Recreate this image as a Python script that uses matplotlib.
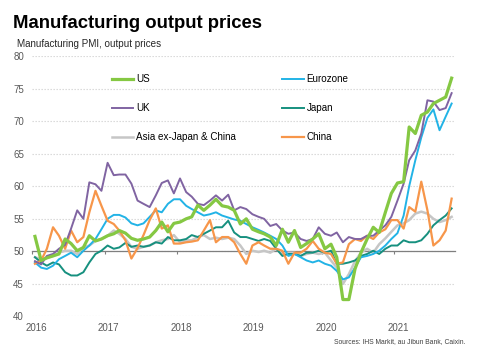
import numpy as np
import pandas as pd
import matplotlib
matplotlib.use("Agg")
import matplotlib.pyplot as plt
import matplotlib.dates as mdates
import matplotlib.transforms as mtransforms

plt.rcParams['font.family'] = ['Liberation Sans', 'DejaVu Sans']

# monthly readings, Jan 2016 - Oct 2021
months = pd.date_range("2016-01-01", "2021-10-01", freq="MS")

us = [52.3, 48.6, 49.0, 49.3, 49.6, 51.9, 51.2, 50.1, 50.6, 52.4, 51.6, 51.9,
      52.4, 52.7, 53.2, 52.8, 52.0, 51.7, 51.9, 52.2, 53.2, 54.5, 53.0, 54.3,
      54.5, 55.0, 55.3, 57.1, 56.3, 57.1, 58.0, 57.0, 56.8, 56.3, 54.2, 55.0,
      53.4, 53.0, 52.7, 52.2, 50.9, 53.4, 51.4, 53.2, 50.6, 51.2, 51.9, 52.7,
      50.4, 51.1, 49.1, 42.6, 42.6, 47.3, 49.8, 51.9, 53.7, 52.9, 56.0, 58.9,
      60.5, 60.7, 69.1, 68.1, 70.9, 71.4, 72.7, 73.2, 73.7, 76.6]
eurozone = [48.3, 47.5, 47.3, 47.8, 48.8, 49.3, 49.8, 49.1, 50.1, 50.9, 51.9, 53.4,
            55.0, 55.6, 55.6, 55.2, 54.3, 54.0, 54.3, 55.3, 56.3, 56.0, 57.3, 58.0,
            58.0, 57.0, 56.5, 56.0, 55.5, 55.7, 56.0, 55.5, 55.2, 54.9, 54.7, 54.2,
            53.7, 53.3, 52.9, 52.4, 51.9, 50.9, 49.3, 49.6, 49.1, 48.6, 48.3, 48.6,
            48.1, 47.8, 47.0, 45.7, 46.0, 47.5, 49.1, 49.3, 49.6, 50.1, 50.9, 51.9,
            52.8, 55.5, 60.0, 64.0, 67.5, 70.5, 71.8, 68.6, 70.7, 72.7]
uk = [48.5, 48.0, 49.3, 49.6, 50.4, 51.0, 53.5, 56.3, 55.0, 60.6, 60.3, 59.3,
      63.6, 61.7, 61.8, 61.8, 60.4, 57.8, 57.3, 56.8, 58.6, 60.5, 60.9, 58.9,
      61.2, 59.1, 58.4, 57.3, 57.1, 57.8, 58.6, 57.8, 58.7, 56.3, 56.8, 56.5,
      55.7, 55.3, 55.0, 53.9, 54.2, 53.2, 52.7, 52.9, 51.9, 51.6, 51.9, 53.7,
      52.7, 52.4, 52.9, 51.4, 52.2, 51.9, 51.9, 52.4, 52.4, 53.2, 54.0, 55.3,
      57.8, 60.4, 64.0, 65.5, 68.1, 73.2, 73.0, 71.7, 72.0, 74.3]
japan = [49.1, 48.3, 47.8, 48.3, 48.0, 46.8, 46.3, 46.3, 46.8, 48.3, 49.6, 50.1,
         50.9, 50.4, 50.6, 51.3, 50.7, 50.9, 50.7, 50.9, 51.4, 51.2, 52.2, 51.7,
         51.7, 51.9, 52.5, 52.2, 52.7, 53.2, 53.7, 53.7, 54.7, 52.9, 52.2, 52.2,
         51.9, 51.6, 51.9, 51.6, 50.4, 49.3, 49.6, 49.6, 49.3, 49.8, 49.8, 50.1,
         49.8, 50.1, 48.1, 48.1, 48.3, 48.6, 49.3, 49.6, 50.1, 49.6, 50.4, 50.9,
         50.9, 51.7, 51.4, 51.4, 51.7, 52.7, 54.0, 54.8, 55.5, 56.6]
asia_ex = [49.1, 48.8, 49.0, 49.3, 49.8, 50.1, 50.1, 49.6, 50.6, 50.9, 51.6, 51.9,
           52.4, 53.2, 52.7, 51.9, 50.7, 50.4, 50.7, 50.9, 51.4, 51.7, 51.9, 52.5,
           51.4, 51.7, 51.7, 52.2, 52.5, 51.9, 52.1, 51.9, 52.1, 51.9, 50.9, 49.6,
           50.1, 49.9, 50.1, 49.8, 50.4, 49.6, 49.8, 49.8, 49.3, 49.6, 49.8, 49.6,
           49.8, 48.6, 47.5, 45.0, 46.5, 48.5, 49.8, 50.4, 49.8, 51.1, 52.0, 53.0,
           54.0, 54.3, 54.8, 55.8, 56.1, 55.8, 55.0, 54.5, 54.8, 55.3]
china = [48.1, 48.6, 50.4, 53.7, 52.4, 50.4, 53.2, 51.4, 52.2, 56.0, 59.3, 57.0,
         54.7, 54.2, 53.2, 51.7, 48.9, 50.5, 52.5, 54.8, 56.6, 53.5, 54.0, 51.2,
         51.2, 51.4, 51.5, 51.7, 53.2, 54.8, 51.4, 52.2, 52.2, 51.4, 49.6, 48.1,
         50.9, 51.4, 50.9, 50.4, 50.4, 50.1, 48.1, 49.8, 49.8, 50.4, 51.6, 50.4,
         49.8, 49.6, 48.1, 48.3, 51.1, 51.9, 51.6, 52.4, 51.9, 52.9, 53.4, 54.8,
         54.8, 53.5, 56.8, 56.1, 60.7, 56.3, 50.9, 51.7, 53.2, 58.1]

# Excel puts monthly points in the middle of each month
x = months + pd.Timedelta(days=15)

fig = plt.figure(figsize=(4.84, 3.59), dpi=100)
ax = fig.add_axes([0.0661, 0.1184, 0.8736, 0.7256])

l_asia, = ax.plot(x, asia_ex, color='#c6c6c6', lw=1.8, label='Asia ex-Japan & China')
l_jp, = ax.plot(x, japan, color='#16907f', lw=1.4, label='Japan')
l_ez, = ax.plot(x, eurozone, color='#22b3e6', lw=1.4, label='Eurozone')
l_cn, = ax.plot(x, china, color='#f7964a', lw=1.6, label='China')
l_uk, = ax.plot(x, uk, color='#8064a2', lw=1.4, label='UK')
l_us, = ax.plot(x, us, color='#85c843', lw=2.3, label='US')

ax.set_ylim(40, 80)
ax.set_yticks(np.arange(40, 81, 5))
ax.set_xlim(pd.Timestamp('2016-01-01'), pd.Timestamp('2021-11-01'))
ax.yaxis.grid(True, linestyle=(0, (1.2, 1.5)), color='#d4d4d4', lw=0.8)
ax.set_axisbelow(True)
ax.tick_params(axis='y', length=0, pad=5.8, labelsize=7, labelcolor='#595959')

for s in ['top', 'right', 'left']:
    ax.spines[s].set_visible(False)
ax.spines['bottom'].set_position(('data', 50))
ax.spines['bottom'].set_color('#7f7f7f')
ax.spines['bottom'].set_linewidth(0.9)
ax.spines['bottom'].set_zorder(1.5)
ax.xaxis.set_major_locator(mdates.YearLocator())
ax.tick_params(axis='x', length=2.5, width=0.8, color='#7f7f7f', labelbottom=False)

# year labels along the bottom of the plot
sec = ax.secondary_xaxis(0.0)
sec.xaxis.set_major_locator(mdates.YearLocator())
sec.xaxis.set_major_formatter(mdates.DateFormatter('%Y'))
sec.tick_params(length=0, pad=5, labelsize=7, labelcolor='#595959')
sec.spines['bottom'].set_visible(False)
shift = mtransforms.ScaledTranslation(4 / 100, 0, fig.dpi_scale_trans)
for lbl in sec.get_xticklabels():
    lbl.set_transform(lbl.get_transform() + shift)

handles = [l_us, l_uk, l_asia, l_ez, l_jp, l_cn]
ax.legend(handles=handles, labels=[h.get_label() for h in handles], ncol=2,
          loc='upper left', bbox_to_anchor=(0.2314, 0.7925),
          bbox_transform=fig.transFigure, frameon=False, fontsize=7.1,
          borderpad=0, borderaxespad=0, handlelength=2.16, handletextpad=0.3,
          columnspacing=4.7, labelspacing=1.9)

fig.text(0.0262, 1 - 28.5 / 359, "Manufacturing output prices", fontsize=13.3,
         fontweight='bold', va='baseline', ha='left')
fig.text(0.0345, 1 - 47 / 359, "Manufacturing PMI, output prices", fontsize=7.1,
         color='#262626', va='baseline', ha='left')
fig.text(465 / 484, 1 - 341.5 / 359, "Sources: IHS Markit, au Jibun Bank, Caixin.",
         fontsize=4.9, color='#404040', va='center', ha='right')

fig.savefig("out.png", dpi=100)
